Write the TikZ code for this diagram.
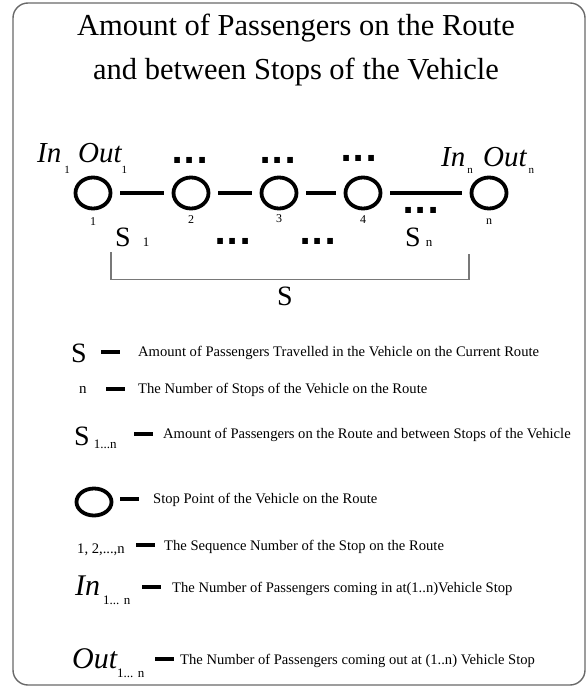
\documentclass[tikz,border=0pt]{standalone}
\usepackage{fontspec}
\setmainfont{Liberation Serif}
\newfontfamily\dotfont{DejaVu Sans}
\usepackage{xcolor}
\definecolor{fgray}{RGB}{105,105,105}
\definecolor{bgray}{RGB}{120,120,120}
\usepackage{tikz}
\usetikzlibrary{shapes.geometric,positioning}

\newcommand{\fs}[1]{\fontsize{#1}{#1}\selectfont}
\newcommand{\low}[3]{\raisebox{-#1pt}{\upshape\fs{#2}#3}}

\begin{document}
\begin{tikzpicture}[x=1pt,y=-1pt,
  ttl/.style={font=\fs{30.5},anchor=base,inner sep=0},
  stop/.style={ellipse,draw,line width=3.8pt,minimum width=35pt,minimum height=31pt,inner sep=0},
  link/.style={line width=3.8pt,shorten <=8pt,shorten >=8pt},
  dots/.style={font=\dotfont\bfseries\fs{32},inner sep=0},
  num/.style={font=\fs{12},inner sep=0},
  io/.style={font=\itshape\fs{29},anchor=base west,inner sep=0},
  sym/.style={font=\fs{28},anchor=base west,inner sep=0},
  bar/.style={fill=black,minimum width=19pt,minimum height=4.5pt,inner sep=0},
  desc/.style={font=\fs{14.6},anchor=base west,inner sep=0},
  frame/.style={draw=fgray,line width=1.4pt,rounded corners=15pt},
  brk/.style={draw=bgray,line width=1.4pt}
]
  \useasboundingbox (0,0) rectangle (588,687);
  \draw[frame] (13,3) rectangle (585,685);

  % Title
  \node[ttl] (t1) at (296,36) {Amount of Passengers on the Route};
  \node[ttl] (t2) at (296,80) {and between Stops of the Vehicle};

  % Stops
  \node[stop] (c1) at (93,193) {};
  \node[stop] (c2) at (191,193) {};
  \node[stop] (c3) at (279,193) {};
  \node[stop] (c4) at (363,193) {};
  \node[stop] (cn) at (489,193) {};

  \node[num,below=7pt of c1] (n1) {1};
  \node[num,below=5pt of c2] (n2) {2};
  \node[num,below=4pt of c3] (n3) {3};
  \node[num,below=5pt of c4] (n4) {4};
  \node[num,below=8pt of cn] (nn) {n};

  % In / Out
  \node[io] (in1) at (37,163) {In\hspace{3pt}\low{10}{11}{1}};
  \node[io] (out1) at (78,163) {Out\low{10}{11}{1}};
  \node[io] (inn) at (441,167) {In\hspace{2pt}\low{6}{11}{n}};
  \node[io] (outn) at (483,167) {Out\hspace{2pt}\low{6}{11}{n}};

  % Dots
  \node[dots] (dt2) at (190,160) {...};
  \node[dots] (dt3) at (278,160) {...};
  \node[dots] (dt4) at (359,158) {...};
  \node[dots] (dtn) at (421,210) {...};
  \node[dots] (dts1) at (233,241) {...};
  \node[dots] (dts2) at (318,241) {...};

  % Between stops
  \node[sym] (s1) at (115,246) {S\hspace{12pt}{\fs{13}1}};
  \node[sym] (sn) at (405,246) {S\hspace{5pt}{\fs{13}n}};
  \node[sym,anchor=base] (stot) at (285,305) {S};

  \draw[link] (c1) -- (c2);
  \draw[link] (c2) -- (c3);
  \draw[link] (c3) -- (c4);
  \draw[link] (c4) -- (cn);

  \coordinate (bl) at (111,252);
  \coordinate (br) at (469,254);
  \draw[brk] (bl) -- ++(0,27.5) -| (br);

  % Legend
  \node[sym] (lS) at (71,362) {S};
  \node[bar] (b1) at (110,352) {};
  \node[desc] (e1) at (138,356) {Amount of Passengers Travelled in the Vehicle on the Current Route};

  \node[desc,font=\fs{15}] (ln) at (79,393) {n};
  \node[bar] (b2) at (115,389) {};
  \node[desc] (e2) at (138,393) {The Number of Stops of the Vehicle on the Route};

  \node[sym] (lSn) at (74,445) {S\hspace{4pt}\low{3}{13}{1...n}};
  \node[bar] (b3) at (143,434) {};
  \node[desc] (e3) at (163,438) {Amount of Passengers on the Route and between Stops of the Vehicle};

  \node[stop,minimum height=27pt] (lc) at (94,502) {};
  \node[bar] (b4) at (129.5,499) {};
  \node[desc] (e4) at (153,503) {Stop Point of the Vehicle on the Route};

  \node[desc] (lnum) at (77,553) {1, 2,...,n};
  \node[bar] (b5) at (145,545) {};
  \node[desc] (e5) at (164,550) {The Sequence Number of the Stop on the Route};

  \node[io,font=\itshape\fs{30}] (lin) at (75,595) {In\hspace{3pt}\low{9}{13}{1... n}};
  \node[bar] (b6) at (151.5,587) {};
  \node[desc] (e6) at (172,592) {The Number of Passengers coming in at(1..n)Vehicle Stop};

  \node[io,font=\itshape\fs{30}] (lout) at (72,668) {Out\low{9}{13}{1... n}};
  \node[bar] (b7) at (164,659) {};
  \node[desc] (e7) at (180,664) {The Number of Passengers coming out at (1..n) Vehicle Stop};
\end{tikzpicture}
\end{document}
